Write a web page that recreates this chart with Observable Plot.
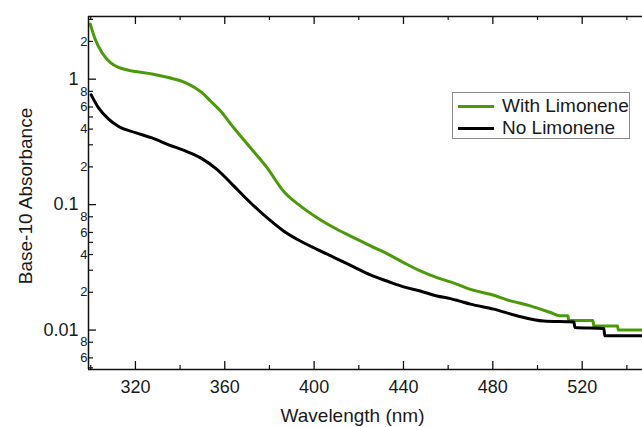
<!DOCTYPE html>
<html>
<head>
<meta charset="utf-8">
<script src="https://cdn.jsdelivr.net/npm/d3@7"></script>
<script src="https://cdn.jsdelivr.net/npm/@observablehq/plot@0.6"></script>
<style>
  html, body { margin: 0; padding: 0; background: #fff; overflow: hidden; }
  #wrap { position: relative; width: 642px; height: 427px; font-family: "Liberation Sans", Arial, sans-serif; color: #1a1a1a; }
  #legend { position: absolute; left: 452px; top: 92px; width: 176px; height: 45px; border: 1px solid #8a8a8a; background: #fff; }
  .lrow { position: absolute; left: 0; height: 22px; width: 100%; }
  .lsw { position: absolute; left: 5px; width: 36px; height: 3px; top: 10px; }
  .ltx { position: absolute; left: 49px; top: 0; font-size: 19px; line-height: 22px; white-space: nowrap; }
</style>
</head>
<body>
<div id="wrap"></div>
<script>
// ---- data ----
const seriesNames = ["With Limonene", "No Limonene"];
const seriesColors = ["#4a9a0a", "#000000"];

const withWl  = [299.8, 302, 305, 308.7, 312.4, 316, 319.9, 327.4, 334.8, 342.3, 349.8, 353.6, 358, 364, 371.4, 378.9, 386.3, 393.8, 401.3, 410.2, 417.7, 425.2, 432.6, 440.1, 447.5, 455, 461, 464.7, 470, 478.9, 487.9, 496.8, 505.8, 510, 513.6, 514, 524.8, 525.2, 535.8, 536.2, 547];
const withAbs = [2.75, 2.08, 1.63, 1.36, 1.24, 1.19, 1.15, 1.10, 1.03, 0.94, 0.78, 0.67, 0.56, 0.41, 0.285, 0.197, 0.128, 0.0977, 0.0787, 0.0637, 0.0546, 0.0469, 0.0407, 0.0345, 0.0296, 0.0262, 0.0242, 0.0229, 0.0211, 0.0193, 0.0171, 0.0156, 0.0138, 0.0130, 0.0130, 0.0119, 0.0119, 0.0108, 0.0108, 0.0100, 0.0100];

const noWl  = [300.2, 303.5, 308, 312.5, 320, 327.4, 334.9, 342.3, 349, 356.5, 364, 371.4, 378.9, 386.3, 393.8, 401.3, 410.2, 417.7, 425.2, 432.6, 440.1, 447.5, 455, 461, 464.7, 470, 480.4, 490.8, 502.8, 516.3, 516.7, 529.7, 530.1, 547];
const noAbs = [0.75, 0.59, 0.48, 0.42, 0.375, 0.34, 0.30, 0.268, 0.237, 0.191, 0.141, 0.104, 0.0787, 0.0617, 0.0513, 0.044, 0.037, 0.0319, 0.0275, 0.0246, 0.0221, 0.0205, 0.0187, 0.0178, 0.0171, 0.0161, 0.0147, 0.0130, 0.0118, 0.0116, 0.0105, 0.0103, 0.0090, 0.0090];

const xDomain = [299, 547];
const yDomain = [0.00485, 3.16];
const xMajorTicks = [320, 360, 400, 440, 480, 520];
const xMinorTicks = [300, 340, 380, 420, 460, 500, 540];
const yMajorTicks = [0.01, 0.1, 1];
const yMajorLabels = ["0.01", "0.1", "1"];
const yMinorLabeled = [0.006, 0.008, 0.02, 0.04, 0.06, 0.08, 0.2, 0.4, 0.6, 0.8, 2];
const yMinorLabels = ["6", "8", "2", "4", "6", "8", "2", "4", "6", "8", "2"];
const yMinorUnlabeled = [0.005, 0.03, 0.05, 0.3, 0.5, 3];
const xLabel = "Wavelength (nm)";
const yLabel = "Base-10 Absorbance";

// ---- chart ----
const W = 642, H = 427, mL = 88, mR = 0, mT = 16, mB = 58;
const plotW = W - mL - mR, plotH = H - mT - mB;
const rowsWith = withWl.map((w, i) => ({wl: w, abs: withAbs[i]}));
const rowsNo = noWl.map((w, i) => ({wl: w, abs: noAbs[i]}));
const majRows = yMajorTicks.map((v, i) => ({v, t: yMajorLabels[i]}));
const minRows = yMinorLabeled.map((v, i) => ({v, t: yMinorLabels[i]}));

const chart = Plot.plot({
  width: W, height: H,
  marginLeft: mL, marginRight: mR, marginTop: mT, marginBottom: mB,
  style: {fontFamily: "'Liberation Sans', Arial, sans-serif", color: "#1a1a1a", background: "#fff", overflow: "visible"},
  x: {domain: xDomain},
  y: {type: "log", domain: yDomain},
  marks: [
    Plot.line(rowsWith, {x: "wl", y: "abs", stroke: seriesColors[0], strokeWidth: 3, curve: "monotone-x", clip: true}),
    Plot.line(rowsNo, {x: "wl", y: "abs", stroke: seriesColors[1], strokeWidth: 3, curve: "monotone-x", clip: true}),
    Plot.ruleX([xDomain[0]], {stroke: "#111", strokeWidth: 1.5}),
    Plot.ruleY(yDomain, {stroke: "#111", strokeWidth: 1.5}),
    Plot.tickY(yMajorTicks, {y: d => d, insetRight: plotW - 8, stroke: "#111", strokeWidth: 1.3}),
    Plot.tickY(yMinorLabeled.concat(yMinorUnlabeled), {y: d => d, insetRight: plotW - 5, stroke: "#111", strokeWidth: 1.2}),
    Plot.tickX(xMajorTicks, {x: d => d, insetTop: plotH - 8, stroke: "#111", strokeWidth: 1.3}),
    Plot.tickX(xMajorTicks, {x: d => d, insetBottom: plotH - 8, stroke: "#111", strokeWidth: 1.3}),
    Plot.tickX(xMinorTicks, {x: d => d, insetTop: plotH - 4, stroke: "#111", strokeWidth: 1.2}),
    Plot.tickX(xMinorTicks, {x: d => d, insetBottom: plotH - 4, stroke: "#111", strokeWidth: 1.2}),
    Plot.text(majRows, {y: "v", text: "t", frameAnchor: "left", textAnchor: "end", dx: -10, fontSize: 18, fill: "#1a1a1a"}),
    Plot.text(minRows, {y: "v", text: "t", frameAnchor: "left", textAnchor: "end", dx: -1, fontSize: 13, fill: "#1a1a1a"}),
    Plot.axisX(xMajorTicks, {tickSize: 0, tickPadding: 11, fontSize: 18, tickFormat: d => String(d), label: null}),
    Plot.axisY([], {label: null, tickSize: 0}),
    Plot.text([yLabel], {frameAnchor: "left", textAnchor: "middle", lineAnchor: "middle", rotate: -90, dx: -63, dy: 3, fontSize: 19, fill: "#1a1a1a"}),
    Plot.text([xLabel], {frameAnchor: "bottom", textAnchor: "middle", lineAnchor: "middle", dx: -13, dy: 46, fontSize: 19, fill: "#1a1a1a"})
  ]
});

const wrap = document.getElementById("wrap");
wrap.appendChild(chart);

// legend
const legend = document.createElement("div");
legend.id = "legend";
seriesNames.forEach((name, i) => {
  const row = document.createElement("div");
  row.className = "lrow";
  row.style.top = (2 + i * 22) + "px";
  const sw = document.createElement("div");
  sw.className = "lsw";
  sw.style.background = seriesColors[i];
  const tx = document.createElement("div");
  tx.className = "ltx";
  tx.textContent = name;
  row.appendChild(sw);
  row.appendChild(tx);
  legend.appendChild(row);
});
wrap.appendChild(legend);
</script>
</body>
</html>
